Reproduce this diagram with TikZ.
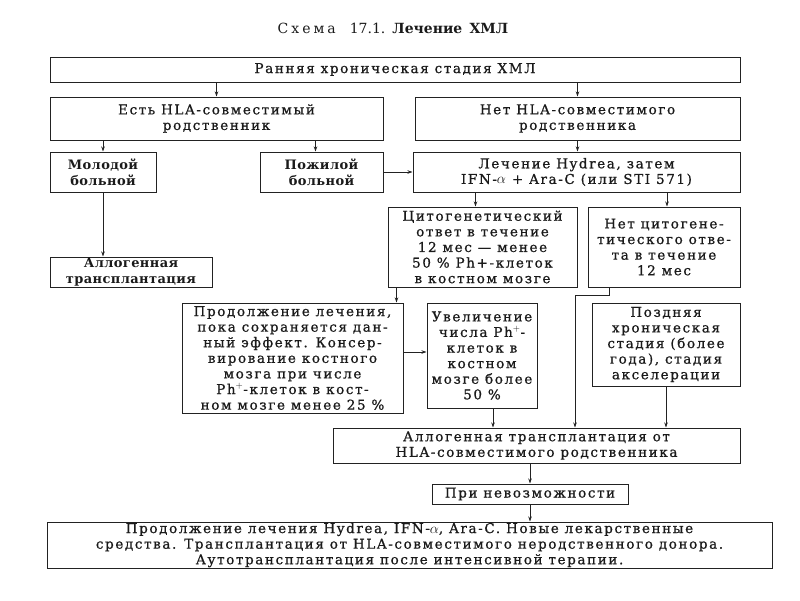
\documentclass[tikz,border=0pt]{standalone}
\usepackage{fontspec}
\setmainfont{DejaVu Serif}
\newfontfamily\boxfont[LetterSpace=12,FakeBold=0.8]{DejaVu Serif}
\newfontfamily\heavyfont[LetterSpace=3]{DejaVu Serif}
\usetikzlibrary{arrows.meta,calc}
\definecolor{linec}{HTML}{222222}
\definecolor{textc}{HTML}{1A1A1A}
\begin{document}
\begin{tikzpicture}[x=1pt,y=-1pt,
  box/.style={draw=linec, line width=1pt, inner sep=0pt, align=center, text=textc,
    font=\boxfont\fontsize{13.5}{15.6}\selectfont},
  boldbox/.style={box, font=\heavyfont\bfseries\fontsize{13}{15.6}\selectfont},
  arr/.style={draw=linec, line width=0.8pt, -{Stealth[length=5pt,width=3.5pt]}}]
\fill[white] (0,0) rectangle (800,600);
\useasboundingbox (0,0) rectangle (800,600);

\node[text=textc, font=\fontsize{14}{16}\selectfont] (title) at (393,28)
  {С\kern3pt х\kern3pt е\kern3pt м\kern3pt а\quad 17.1.\enspace\textbf{Лечение\, ХМЛ}};

\node[box, minimum width=690pt, minimum height=25pt] (b1) at (395,69.5)
  {Ранняя хроническая стадия ХМЛ};
\node[box, minimum width=333pt, minimum height=43pt] (yes) at (216.5,118.5)
  {Есть HLA-совместимый\\родственник};
\node[box, minimum width=325pt, minimum height=43pt] (no) at (577.5,118.5)
  {Нет HLA-совместимого\\родственника};
\node[boldbox, minimum width=106pt, minimum height=40pt] (young) at (103,172)
  {Молодой\\больной};
\node[boldbox, minimum width=123pt, minimum height=40pt] (old) at (321.5,172)
  {Пожилой\\больной};
\node[box, minimum width=327pt, minimum height=40pt] (hyd) at (576.5,172)
  {Лечение Hydrea, затем\\IFN-$\alpha$ + Ara-C (или STI 571)};
\node[boldbox, minimum width=162pt, minimum height=30pt] (allo1) at (131,272)
  {Аллогенная\\трансплантация};
\node[box, minimum width=189pt, minimum height=80pt] (cyt) at (482.5,247)
  {Цитогенетический\\ответ в течение\\12 мес — менее\\50 \% Ph+-клеток\\в костном мозге};
\node[box, minimum width=152pt, minimum height=80pt] (nocyt) at (664,247)
  {Нет цитогене-\\тического отве-\\та в течение\\12 мес};
\node[box, minimum width=221pt, minimum height=110pt] (cont) at (292.5,358)
  {Продолжение лечения,\\пока сохраняется дан-\\ный эффект. Консер-\\вирование костного\\мозга при числе\\Ph$^+$-клеток в кост-\\ном мозге менее 25 \%};
\node[box, minimum width=110pt, minimum height=105pt] (incr) at (482,355.5)
  {Увеличение\\числа Ph$^+$-\\клеток в\\костном\\мозге более\\50 \%};
\node[box, minimum width=148pt, minimum height=83pt] (late) at (666,344.5)
  {Поздняя\\хроническая\\стадия (более\\года), стадия\\акселерации};
\node[box, minimum width=407pt, minimum height=35pt] (allo2) at (536.5,445.5)
  {Аллогенная трансплантация от\\HLA-совместимого родственника};
\node[box, minimum width=196pt, minimum height=20pt] (imp) at (530,494)
  {При невозможности};
\node[box, minimum width=725pt, minimum height=46pt] (fin) at (409.5,545)
  {Продолжение лечения Hydrea, IFN-$\alpha$, Ara-C. Новые лекарственные\\средства. Трансплантация от HLA-совместимого неродственного донора.\\Аутотрансплантация после интенсивной терапии.};

\coordinate (k1) at (575,295);

\draw[arr] (b1.south -| yes.north) -- (yes.north);
\draw[arr] (b1.south -| no.north) -- (no.north);
\draw[arr] (yes.south -| young.north) -- (young.north);
\draw[arr] ([xshift=-6pt]yes.south -| old.north) -- ([xshift=-6pt]old.north);
\draw[arr] (young.south) -- (young.south |- allo1.north);
\draw[arr] (old.east) -- (old.east -| hyd.west);
\draw[arr] (no.south) -- (no.south |- hyd.north);
\draw[arr] ([xshift=-7pt]hyd.south -| cyt.north) -- ([xshift=-7pt]cyt.north);
\draw[arr] ([xshift=3pt]hyd.south -| nocyt.north) -- ([xshift=3pt]nocyt.north);
\draw[arr] ([xshift=9pt]cyt.south west) -- ([xshift=9pt]cyt.south west |- cont.north);
\draw[arr] ([yshift=6pt]cont.east) -- ([yshift=6pt]cont.east -| incr.west);
\draw[arr] ([xshift=22pt]nocyt.south west) |- (k1) -- (k1 |- allo2.north);
\draw[arr] ([xshift=11pt]incr.south) -- ([xshift=11pt]incr.south |- allo2.north);
\draw[arr] (late.south) -- (late.south |- allo2.north);
\draw[arr] (allo2.south -| imp.north) -- (imp.north);
\draw[arr] (imp.south) -- (imp.south |- fin.north);
\end{tikzpicture}
\end{document}
